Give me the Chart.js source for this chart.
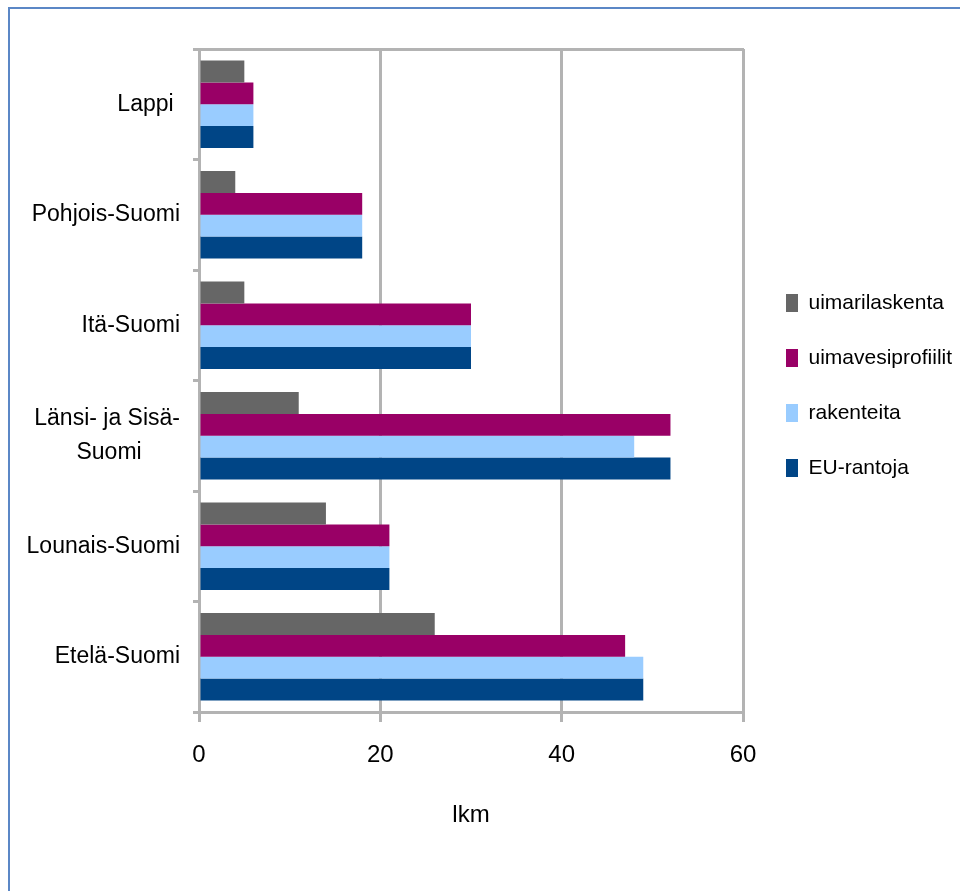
<!DOCTYPE html>
<html>
<head>
<meta charset="utf-8">
<script src="https://cdn.jsdelivr.net/npm/chart.js@4/dist/chart.umd.min.js"></script>
<style>
  html, body { margin: 0; padding: 0; background: #fff; }
  #wrap { position: relative; width: 960px; height: 891px; overflow: hidden; }
  #frame { position: absolute; left: 8px; top: 7px; width: 1000px; height: 1000px;
           border-left: 2px solid #5b87c6; border-top: 2px solid #5b87c6; }
  #myChart { position: absolute; left: 0; top: 0; }
</style>
</head>
<body>
<div id="wrap">
  <div id="frame"></div>
  <canvas id="myChart" width="960" height="891"></canvas>
</div>
<script>
const categories = [
  "Lappi ",
  "Pohjois-Suomi",
  "Itä-Suomi",
  ["Länsi- ja Sisä-", "Suomi      "],
  "Lounais-Suomi",
  "Etelä-Suomi",
];
const uimarilaskenta = [5, 4, 5, 11, 14, 26];
const uimavesiprofiilit = [6, 18, 30, 52, 21, 47];
const rakenteita = [6, 18, 30, 48, 21, 49];
const euRantoja = [6, 18, 30, 52, 21, 49];
const xTicks = [0, 20, 40, 60];

const font = "'Liberation Sans', Arial, sans-serif";
const gridColor = "#b3b3b3";

Chart.defaults.font.family = font;
Chart.defaults.color = "#000";

const generateChart = () => {
  const ctx = document.getElementById("myChart");

  const chart = new Chart(ctx, {
    type: "bar",
    data: {
      labels: categories,
      datasets: [
        { label: "uimarilaskenta", data: uimarilaskenta, backgroundColor: "#666666" },
        { label: "uimavesiprofiilit", data: uimavesiprofiilit, backgroundColor: "#990066" },
        { label: "rakenteita", data: rakenteita, backgroundColor: "#99ccff" },
        { label: "EU-rantoja", data: euRantoja, backgroundColor: "#004586" },
      ],
    },
    options: {
      indexAxis: "y",
      responsive: false,
      animation: false,
      datasets: {
        bar: { categoryPercentage: 0.79, barPercentage: 1, borderWidth: 0 },
      },
      layout: { padding: { left: 0, top: 49, right: 0, bottom: 61 } },
      scales: {
        x: {
          min: 0,
          max: 60,
          afterBuildTicks: (scale) => {
            scale.ticks = xTicks.map((v) => ({ value: v }));
          },
          grid: { color: gridColor, lineWidth: 3, tickLength: 10, tickColor: gridColor },
          border: { color: gridColor, width: 3 },
          ticks: { font: { size: 24 }, padding: 19, maxRotation: 0 },
          title: { display: true, text: "lkm", font: { size: 24 }, padding: { top: 30, bottom: 0 } },
          afterFit: (scale) => { scale.height = 118; },
        },
        x2: {
          axis: "x",
          type: "linear",
          position: "top",
          grid: { drawOnChartArea: false, drawTicks: false },
          border: { color: gridColor, width: 3 },
          ticks: { display: false },
          afterFit: (scale) => { scale.height = 0; },
        },
        y: {
          grid: { drawOnChartArea: false, offset: true, lineWidth: 3, color: gridColor, tickLength: 6 },
          border: { color: gridColor, width: 3 },
          ticks: { font: { size: 23, lineHeight: 1.45 }, padding: 13, autoSkip: false },
          afterFit: (scale) => { scale.width = 199; },
        },
        yr: {
          axis: "y",
          type: "category",
          position: "right",
          grid: { display: false },
          border: { display: false },
          ticks: { display: false },
          afterFit: (scale) => { scale.width = 9; },
        },
      },
      plugins: {
        legend: {
          position: "right",
          fullSize: false,
          maxWidth: 208,
          title: { display: true, text: " ", font: { size: 8, lineHeight: 1 }, padding: 1 },
          labels: { font: { size: 21 }, boxWidth: 12, boxHeight: 18, padding: 34 },
        },
        tooltip: { enabled: false },
      },
    },
  });
};

generateChart();
</script>
</body>
</html>
